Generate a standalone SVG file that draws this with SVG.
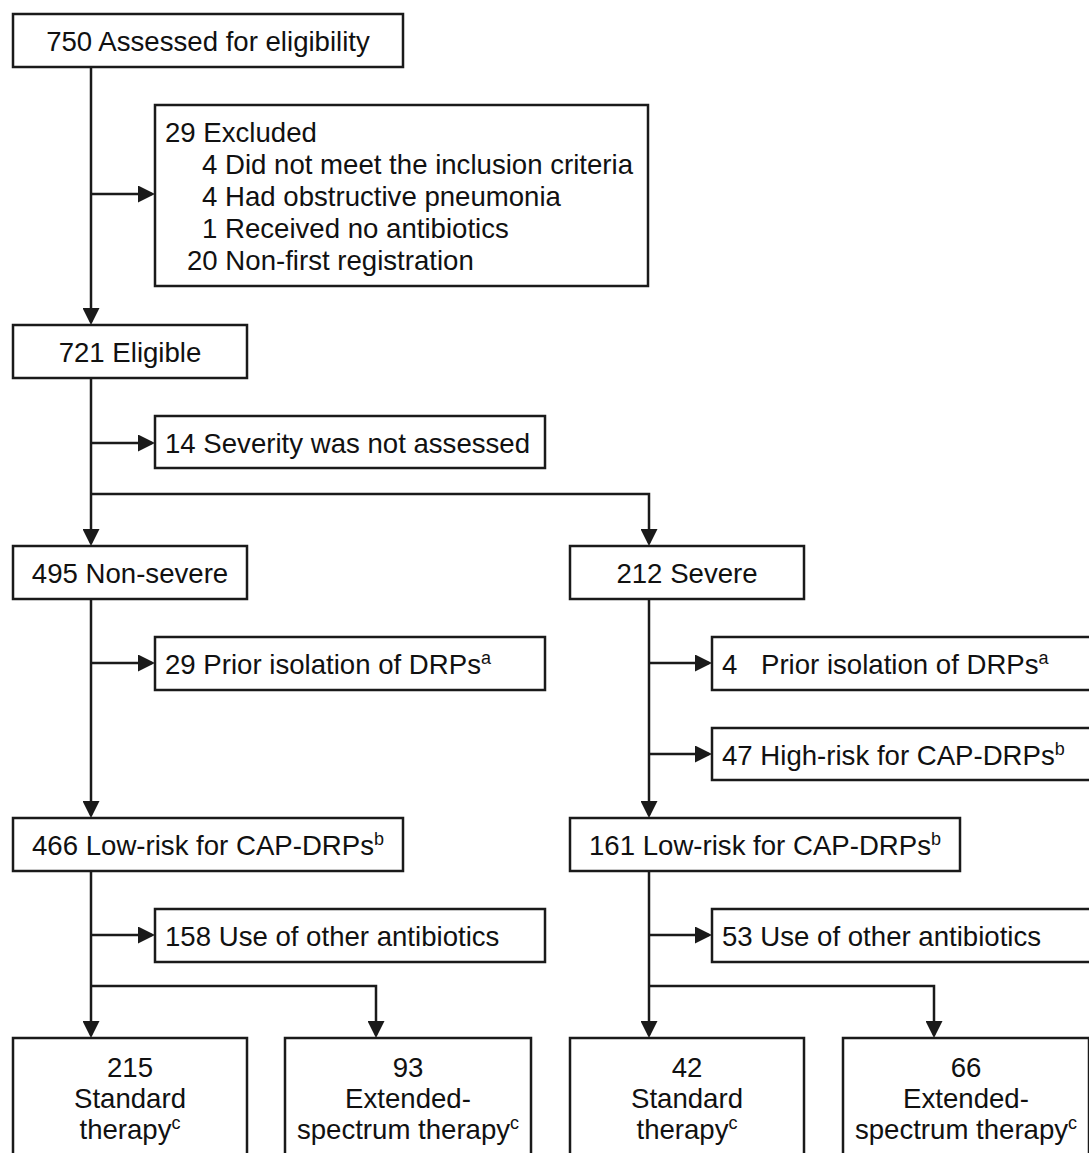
<svg xmlns="http://www.w3.org/2000/svg" width="1089" height="1153" viewBox="0 0 1089 1153">
<style>
  .box { fill: #ffffff; stroke: #1a1a1a; stroke-width: 2.5; }
  .line { fill: none; stroke: #1a1a1a; stroke-width: 2.5; }
  text { font-family: "Liberation Sans", Arial, Helvetica, sans-serif; font-size: 27.6px; fill: #111111; }
  .c { text-anchor: middle; }
  .sup { font-size: 18px; }
</style>
<defs>
  <marker id="arr" markerUnits="userSpaceOnUse" markerWidth="17" markerHeight="17" viewBox="0 0 17 17" refX="14" refY="8.5" orient="auto">
    <path d="M0,0 L17,8.5 L0,17 Z" fill="#1a1a1a"/>
  </marker>
</defs>
<rect width="1089" height="1153" fill="#ffffff"/>

<g id="connectors">
  <path class="line" d="M91,67 L91,322" marker-end="url(#arr)"/>
  <path class="line" d="M91,194 L152,194" marker-end="url(#arr)"/>
  <path class="line" d="M91,378 L91,543" marker-end="url(#arr)"/>
  <path class="line" d="M91,443 L152,443" marker-end="url(#arr)"/>
  <path class="line" d="M91,494 L649,494 L649,543" marker-end="url(#arr)"/>
  <path class="line" d="M91,599 L91,815" marker-end="url(#arr)"/>
  <path class="line" d="M91,663 L152,663" marker-end="url(#arr)"/>
  <path class="line" d="M91,871 L91,1035" marker-end="url(#arr)"/>
  <path class="line" d="M91,935 L152,935" marker-end="url(#arr)"/>
  <path class="line" d="M91,986 L376,986 L376,1035" marker-end="url(#arr)"/>
  <path class="line" d="M649,599 L649,815" marker-end="url(#arr)"/>
  <path class="line" d="M649,663 L709,663" marker-end="url(#arr)"/>
  <path class="line" d="M649,754 L709,754" marker-end="url(#arr)"/>
  <path class="line" d="M649,871 L649,1035" marker-end="url(#arr)"/>
  <path class="line" d="M649,935 L709,935" marker-end="url(#arr)"/>
  <path class="line" d="M649,986 L934,986 L934,1035" marker-end="url(#arr)"/>
</g>

<g id="n-assessed">
  <rect class="box" x="13" y="14" width="390" height="53"/>
  <text class="c" x="208" y="51">750 Assessed for eligibility</text>
</g>

<g id="n-excluded">
  <rect class="box" x="155" y="105" width="493" height="181"/>
  <text x="165" y="142">29 Excluded</text>
  <text x="202" y="174">4 Did not meet the inclusion criteria</text>
  <text x="202" y="206">4 Had obstructive pneumonia</text>
  <text x="202" y="238">1 Received no antibiotics</text>
  <text x="187" y="270">20 Non-first registration</text>
</g>

<g id="n-eligible">
  <rect class="box" x="13" y="325" width="234" height="53"/>
  <text class="c" x="130" y="362">721 Eligible</text>
</g>

<g id="n-severity-na">
  <rect class="box" x="155" y="416" width="390" height="52"/>
  <text x="165" y="453">14 Severity was not assessed</text>
</g>

<g id="n-nonsevere">
  <rect class="box" x="13" y="546" width="234" height="53"/>
  <text class="c" x="130" y="583">495 Non-severe</text>
</g>

<g id="n-severe">
  <rect class="box" x="570" y="546" width="234" height="53"/>
  <text class="c" x="687" y="583">212 Severe</text>
</g>

<g id="n-prior-left">
  <rect class="box" x="155" y="637" width="390" height="53"/>
  <text x="165" y="674">29 Prior isolation of DRPs<tspan class="sup" dy="-10">a</tspan></text>
</g>

<g id="n-prior-right">
  <rect class="box" x="712" y="637" width="400" height="53"/>
  <text x="722" y="674">4</text>
  <text x="761" y="674">Prior isolation of DRPs<tspan class="sup" dy="-10">a</tspan></text>
</g>

<g id="n-highrisk">
  <rect class="box" x="712" y="728" width="400" height="52"/>
  <text x="722" y="765">47 High-risk for CAP-DRPs<tspan class="sup" dy="-10">b</tspan></text>
</g>

<g id="n-lowrisk-left">
  <rect class="box" x="13" y="818" width="390" height="53"/>
  <text class="c" x="208" y="855">466 Low-risk for CAP-DRPs<tspan class="sup" dy="-10">b</tspan></text>
</g>

<g id="n-lowrisk-right">
  <rect class="box" x="570" y="818" width="390" height="53"/>
  <text class="c" x="765" y="855">161 Low-risk for CAP-DRPs<tspan class="sup" dy="-10">b</tspan></text>
</g>

<g id="n-other-left">
  <rect class="box" x="155" y="909" width="390" height="53"/>
  <text x="165" y="946">158 Use of other antibiotics</text>
</g>

<g id="n-other-right">
  <rect class="box" x="712" y="909" width="400" height="53"/>
  <text x="722" y="946">53 Use of other antibiotics</text>
</g>

<g id="n-std-left">
  <rect class="box" x="13" y="1038" width="234" height="130"/>
  <text class="c" x="130" y="1077">215</text>
  <text class="c" x="130" y="1108">Standard</text>
  <text class="c" x="130" y="1139">therapy<tspan class="sup" dy="-10">c</tspan></text>
</g>

<g id="n-ext-left">
  <rect class="box" x="285" y="1038" width="246" height="130"/>
  <text class="c" x="408" y="1077">93</text>
  <text class="c" x="408" y="1108">Extended-</text>
  <text class="c" x="408" y="1139">spectrum therapy<tspan class="sup" dy="-10">c</tspan></text>
</g>

<g id="n-std-right">
  <rect class="box" x="570" y="1038" width="234" height="130"/>
  <text class="c" x="687" y="1077">42</text>
  <text class="c" x="687" y="1108">Standard</text>
  <text class="c" x="687" y="1139">therapy<tspan class="sup" dy="-10">c</tspan></text>
</g>

<g id="n-ext-right">
  <rect class="box" x="843" y="1038" width="246" height="130"/>
  <text class="c" x="966" y="1077">66</text>
  <text class="c" x="966" y="1108">Extended-</text>
  <text class="c" x="966" y="1139">spectrum therapy<tspan class="sup" dy="-10">c</tspan></text>
</g>
</svg>
